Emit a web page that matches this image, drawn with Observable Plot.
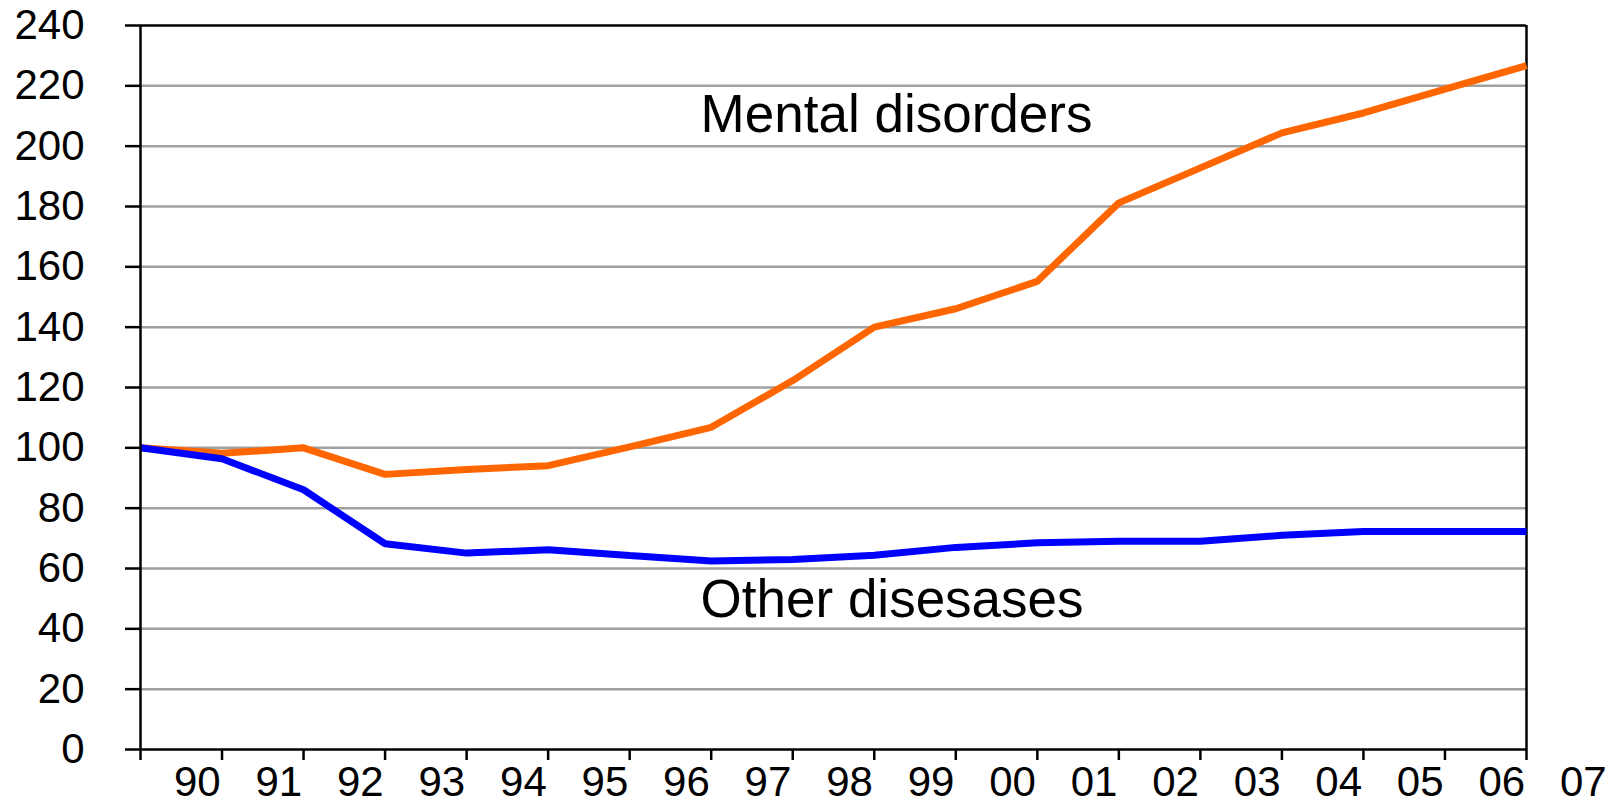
<!DOCTYPE html>
<html>
<head>
<meta charset="utf-8">
<script src="https://cdn.jsdelivr.net/npm/d3@7"></script>
<script src="https://cdn.jsdelivr.net/npm/@observablehq/plot@0.6"></script>
<style>
  html, body { margin: 0; padding: 0; background: #fff; }
  #chart svg { display: block; }
</style>
</head>
<body>
<div id="chart"></div>
<script>
// Year labels (category ticks)
const years = ["90","91","92","93","94","95","96","97","98","99","00","01","02","03","04","05","06","07"];
// Index values (1990 = 100)
const mentalDisorders = [100, 98.2, 100, 91.2, 92.8, 94.1, 100.3, 106.8, 122.3, 140.0, 146.1, 155.2, 181.2, 192.8, 204.4, 211.0, 218.9, 226.7];
const otherDiseases   = [100, 96.4, 86.1, 68.2, 65.1, 66.2, 64.3, 62.5, 63.0, 64.4, 67.0, 68.5, 69.0, 69.0, 71.0, 72.3, 72.3, 72.3];
const yTicks = [0, 20, 40, 60, 80, 100, 120, 140, 160, 180, 200, 220, 240];
// Series labels placed in the chart
const seriesLabels = ["Mental disorders", "Other disesases"];
const labelX = [6.87, 6.87];
const labelY = [210.2, 49.4];

const idx = years.map((_, i) => i);
const mentalData = idx.map(i => ({i, v: mentalDisorders[i]}));
const otherData = idx.map(i => ({i, v: otherDiseases[i]}));
const labelData = seriesLabels.map((t, k) => ({t, x: labelX[k], y: labelY[k]}));

const chart = Plot.plot({
  width: 1608,
  height: 806,
  marginLeft: 140,
  marginRight: 82,
  marginTop: 25,
  marginBottom: 57,
  x: {domain: [0, years.length - 1]},
  y: {domain: [0, 240]},
  style: {fontFamily: "'Liberation Sans', Arial, sans-serif", color: "#000", background: "#fff", overflow: "visible"},
  marks: [
    Plot.gridY(yTicks.filter(t => t > 0 && t < 240), {stroke: "#a0a0a0", strokeOpacity: 1, strokeWidth: 2.5}),
    Plot.ruleY([240], {stroke: "#000", strokeWidth: 2.5}),
    Plot.ruleX([years.length - 1], {stroke: "#000", strokeWidth: 2.5}),
    Plot.axisY({ticks: yTicks, tickSize: 15, tickPadding: 41, fontSize: 42, strokeWidth: 2.5, label: null}),
    Plot.axisX({ticks: idx, tickSize: 11, tickFormat: () => "", strokeWidth: 2.5, label: null}),
    Plot.text(years, {x: (d, i) => i + 0.5, frameAnchor: "bottom", dy: 46, dx: 16, fontSize: 42, fill: "#000"}),
    Plot.line(mentalData, {x: "i", y: "v", stroke: "#ff6600", strokeWidth: 7, strokeLinejoin: "miter", strokeLinecap: "butt"}),
    Plot.line(otherData, {x: "i", y: "v", stroke: "#0000ff", strokeWidth: 7, strokeLinejoin: "miter", strokeLinecap: "butt"}),
    Plot.ruleX([0], {stroke: "#000", strokeWidth: 2.5}),
    Plot.ruleY([0], {stroke: "#000", strokeWidth: 2.5}),
    Plot.text(labelData, {x: "x", y: "y", text: "t", textAnchor: "start", fontSize: 53, fill: "#000"})
  ]
});
document.getElementById("chart").appendChild(chart);
</script>
</body>
</html>
